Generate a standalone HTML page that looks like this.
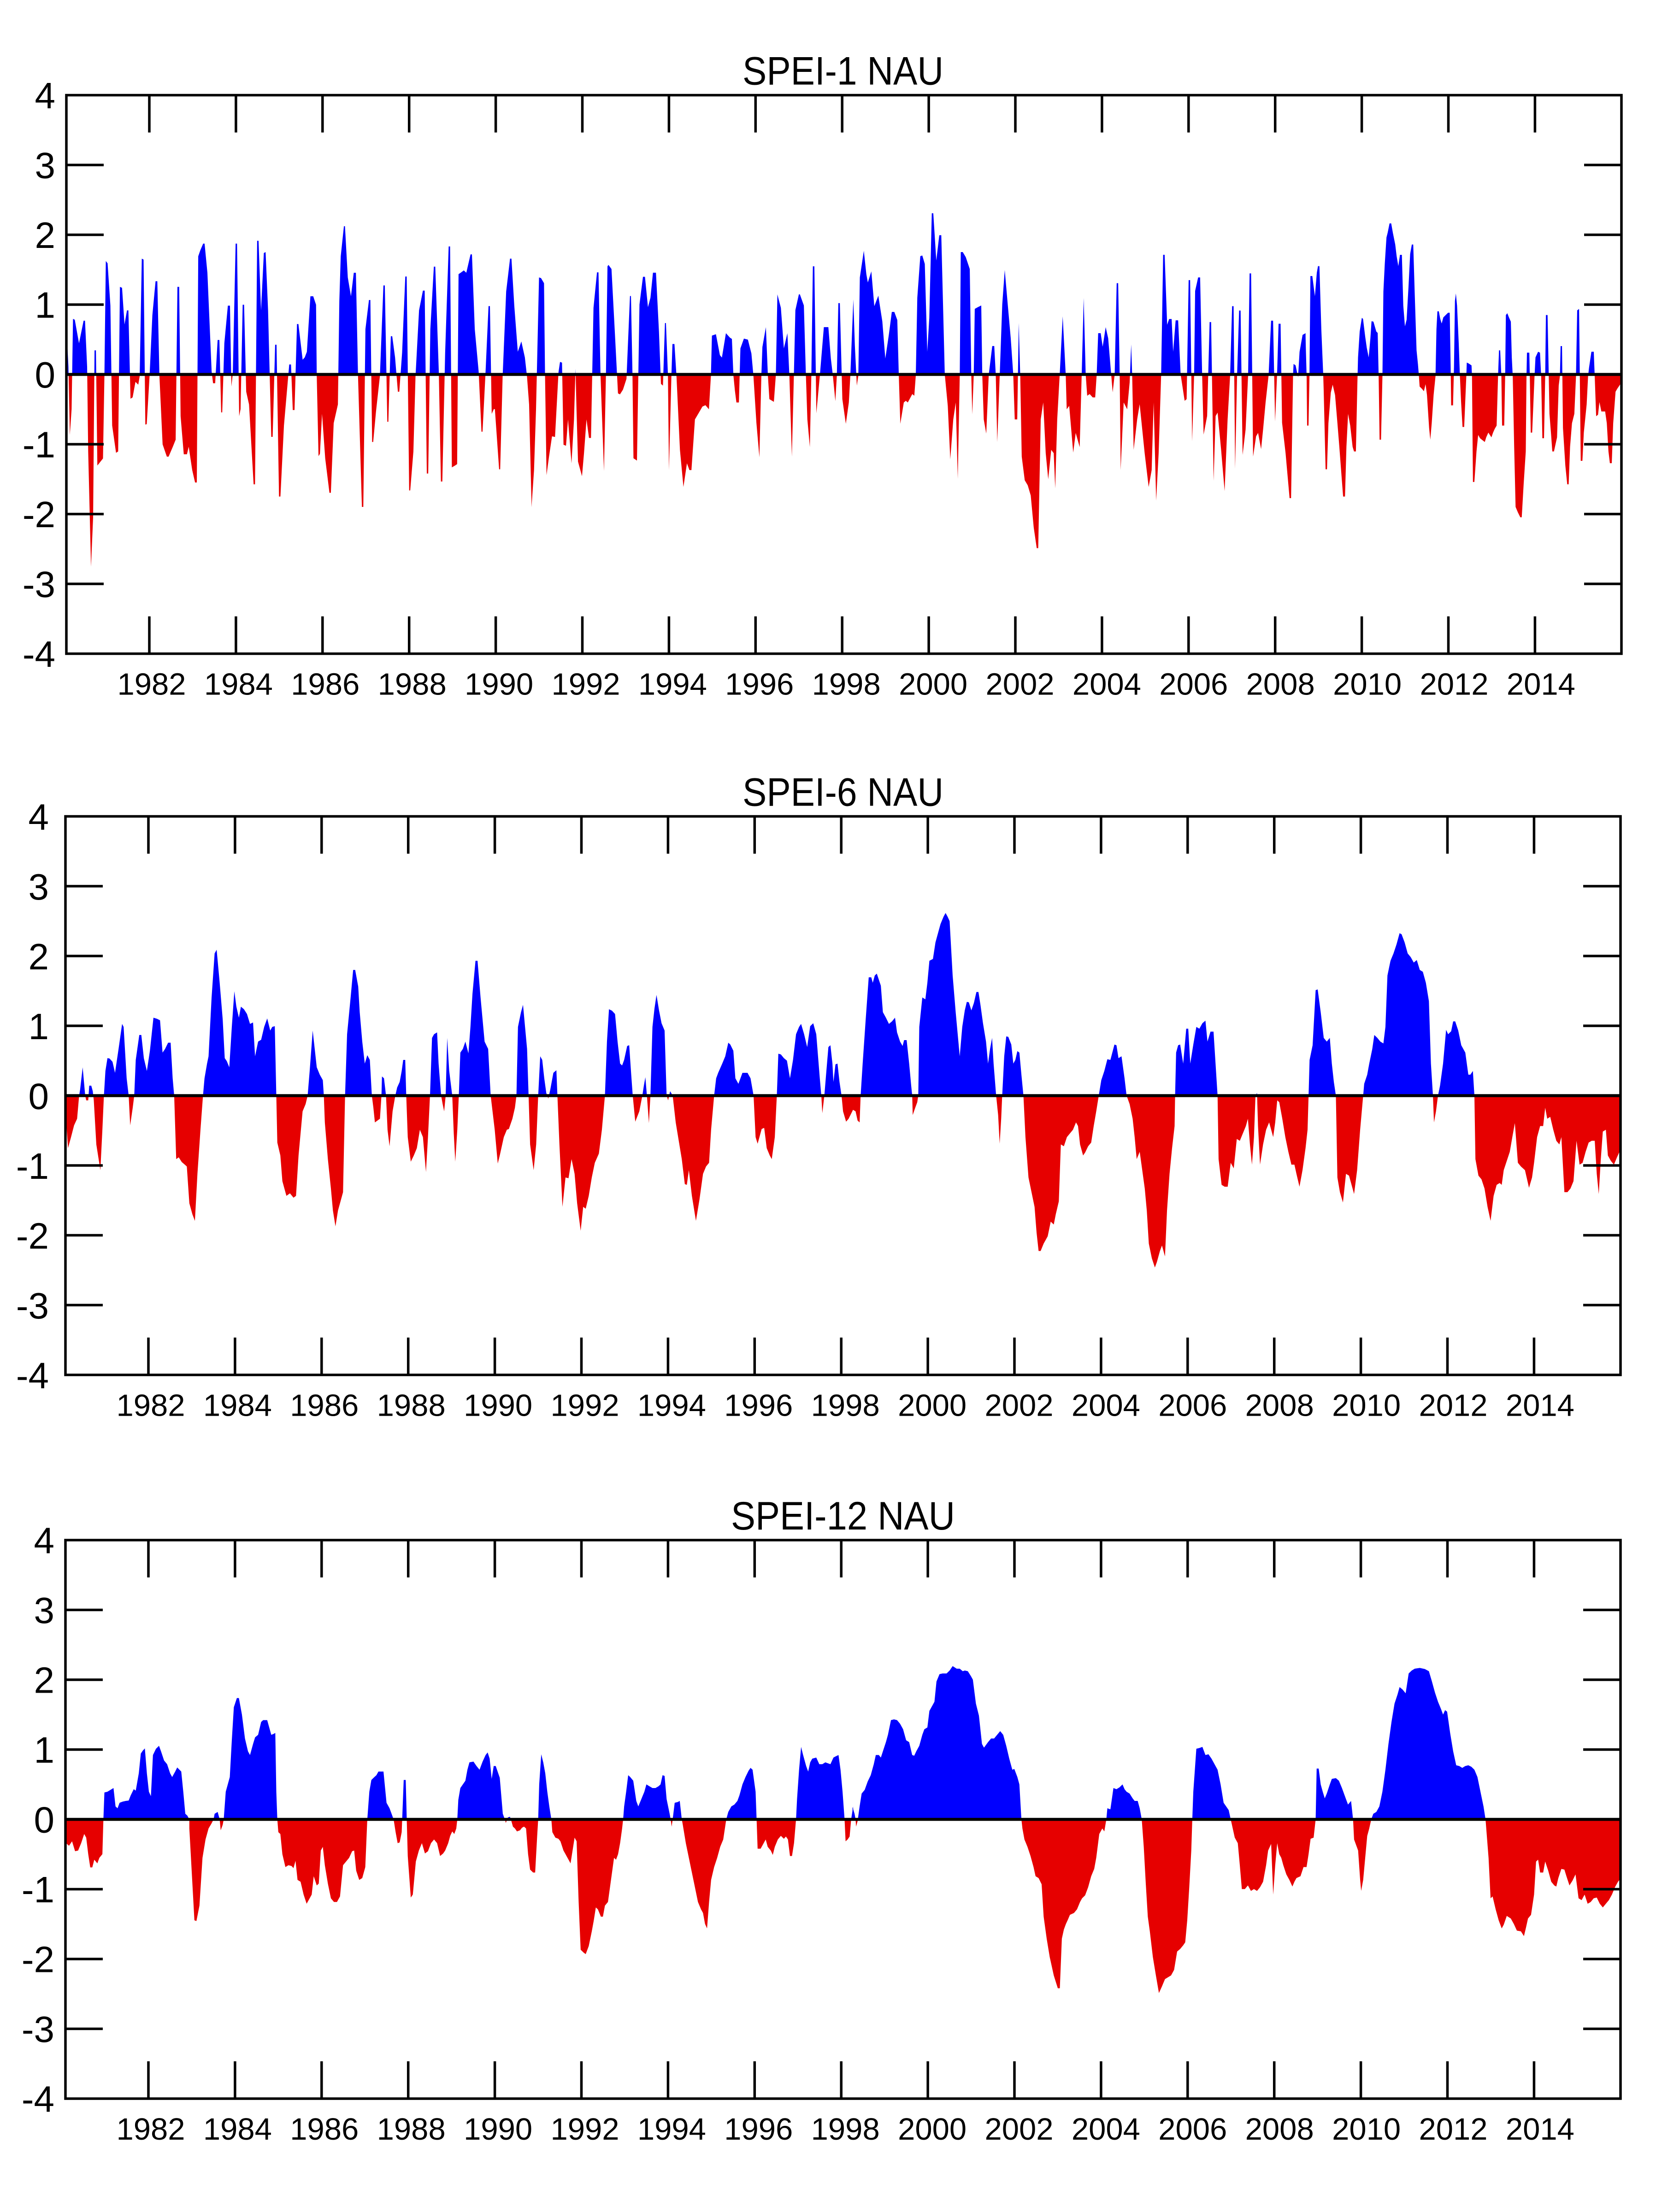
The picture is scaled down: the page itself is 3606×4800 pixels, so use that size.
<!DOCTYPE html>
<html>
<head>
<meta charset="utf-8">
<style>
html,body{margin:0;padding:0;background:#fff;}
svg{display:block;}
text{font-family:"Liberation Sans",Arial,sans-serif;fill:#000;}
</style>
</head>
<body>
<svg xmlns="http://www.w3.org/2000/svg" xmlns:xlink="http://www.w3.org/1999/xlink" width="3606" height="4800" viewBox="0 0 3606 4800">
<rect x="0" y="0" width="3606" height="4800" fill="#fff"/>
<defs>
 <clipPath id="p1" clipPathUnits="userSpaceOnUse"><rect x="0" y="0" width="3606" height="812.5"/></clipPath>
 <clipPath id="n1" clipPathUnits="userSpaceOnUse"><rect x="0" y="812.5" width="3606" height="700"/></clipPath>
 <clipPath id="p2" clipPathUnits="userSpaceOnUse"><rect x="0" y="1600" width="3606" height="777.4"/></clipPath>
 <clipPath id="n2" clipPathUnits="userSpaceOnUse"><rect x="0" y="2377.4" width="3606" height="700"/></clipPath>
 <clipPath id="p3" clipPathUnits="userSpaceOnUse"><rect x="0" y="3200" width="3606" height="748"/></clipPath>
 <clipPath id="n3" clipPathUnits="userSpaceOnUse"><rect x="0" y="3948" width="3606" height="700"/></clipPath>

 <g id="s1">
  <polygon transform="matrix(0.76531 0 0 1.02041 0 0)" points="188,796 190,720 194,780 198,925 203,870 207,678 212,680 224,730 237,682 241,682 247,780 250,960 258,1205 264,1100 268,745 272,745 276,990 292,975 296,800 300,555 305,560 313,650 318,905 329,963 335,960 340,610 346,612 353,690 360,660 364,660 370,848 376,845 384,812 392,818 396,800 402,550 407,552 412,903 416,902 424,800 432,670 441,598 446,598 452,800 461,945 473,971 478,971 490,950 498,935 503,610 508,610 512,885 521,966 530,966 535,950 545,1000 553,1026 558,1026 562,545 568,532 576,518 580,518 588,580 600,790 604,815 610,815 617,723 622,723 627,877 630,877 636,730 646,650 652,650 656,822 660,795 668,518 672,518 678,885 682,870 688,648 692,648 698,833 706,860 719,1030 723,1030 729,512 733,512 740,660 748,538 753,536 760,660 769,929 773,929 780,733 784,733 791,1056 795,1056 805,905 820,775 825,775 830,872 835,872 842,689 846,689 858,765 864,760 870,748 880,630 888,630 896,648 898,800 903,970 907,965 913,880 922,975 934,1048 938,1048 946,900 958,860 962,640 966,545 975,481 978,481 986,590 995,630 1003,580 1009,580 1015,800 1026,1078 1030,1078 1036,700 1046,638 1050,638 1055,940 1058,940 1066,875 1077,800 1087,607 1091,607 1098,897 1101,897 1108,715 1112,715 1120,760 1128,833 1132,833 1140,750 1149,588 1153,588 1160,1043 1163,1043 1172,960 1178,800 1188,660 1199,618 1204,618 1210,1007 1214,1007 1220,700 1230,567 1234,567 1244,790 1250,1024 1254,1024 1262,750 1272,524 1276,524 1281,994 1290,990 1296,987 1300,583 1306,580 1315,575 1322,580 1334,541 1338,541 1346,700 1357,790 1365,918 1368,918 1376,800 1385,651 1389,651 1394,880 1400,870 1403,870 1415,998 1418,998 1425,800 1435,620 1446,550 1450,550 1458,650 1468,748 1478,726 1488,760 1494,800 1500,860 1507,1078 1508,796"/>
  <polygon transform="matrix(1.08418 0 0 0.73342 1150 250)" points="3,767 3,1160 8,1050 12,870 18,480 22,482 28,497 30,767 33,1065 38,1010 44,950 50,952 57,760 60,730 64,732 67,975 72,978 76,900 83,1030 88,900 91,750 93,870 96,1025 104,1068 108,1000 113,900 118,955 122,955 127,570 134,465 137,465 141,767 148,1053 152,760 155,447 157,443 163,455 170,650 176,823 180,826 186,812 193,780 200,535 202,535 205,767 207,1015 214,1022 219,560 226,478 230,478 236,568 241,540 246,466 252,466 258,640 262,795 266,800 270,615 272,615 276,770 278,1050 283,766 285,677 289,677 293,770 300,990 307,1100 314,1030 319,1050 323,1050 330,900 338,880 345,862 351,858 358,870 362,770 364,652 372,648 380,710 384,717 392,645 400,658 404,662 407,770 410,815 413,850 418,850 421,690 428,661 436,664 443,705 447,770 453,910 459,1012 463,767 465,686 472,627 476,770 479,840 488,848 492,767 495,530 502,570 508,690 515,645 519,770 524,1010 528,770 531,577 538,530 540,530 548,563 552,767 555,900 560,982 563,767 566,447 569,447 573,882 580,770 588,627 597,627 602,720 606,770 611,846 614,770 617,556 620,556 625,840 632,913 638,850 641,770 647,545 650,680 654,800 657,770 660,480 668,401 673,470 676,495 683,462 689,565 697,534 705,610 711,720 718,650 724,582 729,582 735,606 738,770 741,913 748,850 752,845 756,850 765,825 769,830 772,770 775,540 781,417 785,415 790,440 795,700 799,600 804,290 807,290 813,430 819,355 823,355 830,767 836,860 841,1018 847,900 852,850 856,1076 860,767 862,405 866,405 872,420 880,455 883,767 885,885 888,767 890,573 896,568 903,563 905,767 908,900 913,942 918,767 925,683 929,683 932,767 935,967 940,767 945,560 950,458 956,560 962,660 967,767 970,900 975,900 978,615 981,770 984,1010 990,1080 996,1095 1002,1125 1008,1220 1014,1281 1017,1281 1022,900 1027,850 1032,1000 1037,1077 1043,990 1048,1000 1051,1104 1055,900 1060,767 1066,595 1072,767 1074,870 1079,860 1087,998 1092,940 1100,982 1104,767 1108,541 1112,767 1115,830 1120,825 1126,835 1131,835 1134,767 1137,645 1142,645 1146,685 1152,627 1157,660 1163,767 1166,820 1170,767 1174,497 1177,497 1180,767 1182,1050 1188,850 1195,870 1200,790 1203,678 1205,767 1208,990 1215,900 1220,855 1230,1000 1238,1100 1244,1050 1248,850 1253,1140 1258,1000 1263,767 1267,413 1270,413 1275,620 1279,603 1284,603 1287,700 1292,607 1297,607 1302,767 1310,845 1314,840 1318,488 1321,488 1325,965 1329,767 1331,520 1337,480 1341,480 1345,767 1348,945 1355,890 1360,612 1363,612 1368,1082 1372,890 1376,880 1383,990 1390,1112 1396,900 1401,770 1405,565 1408,565 1411,1046 1415,767 1419,578 1422,578 1426,1005 1432,930 1437,770 1440,468 1443,468 1447,1010 1453,950 1457,940 1463,988 1467,930 1472,850 1478,770 1483,608 1487,608 1491,906 1495,767 1498,617 1502,617 1505,910 1512,1000 1520,1133 1523,1133 1527,767 1528,736 1532,740 1537,775 1540,700 1546,650 1552,645 1552,767"/>
  <polygon transform="matrix(0.51403 0 0 1.02041 2800 0)" points="58,796 58,710 63,710 68,800 70,905 76,905 80,800 84,587 92,587 103,630 111,580 116,566 122,566 130,700 138,796 140,830 148,998 154,998 160,900 170,835 178,818 188,840 198,900 206,950 215,1010 222,1056 230,1056 236,950 243,880 252,905 262,950 268,960 276,960 282,820 285,760 292,705 301,676 306,678 315,715 322,740 330,760 337,720 342,683 350,684 362,705 368,708 372,800 376,935 382,935 388,800 392,620 398,560 405,505 410,495 418,475 425,475 432,495 442,520 448,545 455,566 462,542 470,542 476,650 483,694 490,680 498,610 505,540 512,520 518,520 524,620 532,745 538,775 542,800 545,822 555,827 563,832 570,817 576,840 585,910 590,935 596,900 604,840 612,800 616,700 620,662 626,662 632,678 638,688 645,675 655,670 665,665 672,665 676,780 678,862 686,862 690,780 694,640 698,624 703,650 710,730 715,800 720,855 726,908 733,908 742,800 744,771 752,773 764,777 766,800 770,1025 776,1025 785,960 792,925 800,932 810,936 820,940 826,930 835,920 848,930 855,920 862,912 870,905 876,800 880,745 885,745 890,800 893,905 902,905 906,800 909,670 915,666 922,675 930,684 934,760 938,800 944,950 950,1078 960,1090 970,1100 976,1100 984,1030 993,960 996,800 998,750 1008,750 1010,800 1014,920 1020,920 1030,800 1034,760 1045,748 1053,750 1058,800 1063,932 1070,932 1075,800 1078,670 1085,670 1090,800 1093,880 1100,925 1105,960 1112,960 1125,930 1132,820 1137,800 1140,736 1146,736 1150,910 1160,990 1168,1030 1174,1030 1180,950 1188,900 1198,880 1205,800 1210,660 1218,657 1225,980 1232,980 1238,920 1250,860 1256,800 1260,782 1270,748 1280,748 1284,800 1290,885 1298,882 1304,855 1312,875 1328,875 1335,900 1342,960 1348,985 1356,985 1362,900 1372,833 1380,826 1395,815 1395,796"/>
 </g>

 <g id="s2">
  <polygon transform="matrix(1.09694 0 0 0.79719 130 1750)" points="12,787 12,850 16,930 22,900 28,868 34,850 38,787 40,770 45,710 50,787 52,800 56,800 58,760 62,760 65,775 67,800 72,920 80,990 84,880 87,787 90,720 94,685 98,686 104,695 109,725 116,660 123,592 126,600 132,740 136,787 139,868 144,820 147,787 150,690 157,622 161,622 166,685 172,720 178,665 185,575 192,578 198,582 203,670 208,660 214,643 219,643 223,740 226,787 230,960 235,955 241,968 247,975 251,980 256,1080 262,1110 267,1128 272,1000 278,880 283,787 286,740 291,700 294,680 300,520 306,400 310,390 316,480 322,580 326,685 330,693 335,710 340,600 345,503 349,545 354,575 358,545 364,552 370,565 376,592 382,588 386,680 392,640 398,635 404,600 410,577 416,610 420,600 425,598 428,787 430,915 436,950 440,1020 448,1060 455,1053 462,1065 467,1060 472,950 480,830 486,810 490,787 494,720 500,610 508,710 514,730 520,745 522,787 524,860 530,960 536,1040 540,1100 545,1143 550,1100 554,1080 560,1050 564,787 568,620 575,520 580,445 584,445 590,490 593,560 598,640 603,700 608,677 613,690 617,787 620,820 623,860 628,855 633,850 636,787 637,735 641,740 645,787 648,880 652,925 658,830 663,790 667,765 672,750 676,720 679,690 683,690 685,787 688,900 694,967 700,950 706,930 712,880 718,900 724,995 728,900 732,787 736,630 740,620 746,615 749,700 754,787 757,810 760,830 763,787 766,630 770,720 776,787 779,890 782,967 786,880 789,787 792,670 797,660 802,640 808,672 812,600 816,510 822,420 826,420 832,520 840,640 847,660 852,787 860,880 866,972 870,950 878,900 884,880 888,878 895,850 900,820 903,787 906,600 912,560 916,540 920,600 924,660 927,787 930,920 937,990 942,920 946,787 950,680 954,690 958,740 962,780 966,795 970,770 976,725 982,718 984,787 988,920 994,1090 1000,1010 1006,1012 1012,960 1018,1000 1023,1080 1030,1155 1035,1090 1040,1095 1046,1060 1052,1010 1058,970 1066,945 1072,880 1078,787 1082,640 1086,552 1092,556 1098,565 1103,640 1108,700 1112,705 1116,690 1122,652 1126,650 1130,730 1133,787 1138,858 1146,830 1152,787 1155,760 1158,737 1161,787 1165,862 1168,787 1172,600 1176,550 1180,513 1185,555 1190,590 1196,610 1200,787 1203,800 1207,775 1212,787 1218,860 1224,910 1230,960 1236,1028 1240,1030 1244,990 1250,1060 1258,1128 1265,1070 1272,1000 1278,980 1284,970 1288,880 1294,787 1298,740 1302,725 1310,700 1316,680 1322,643 1326,648 1332,665 1336,740 1342,755 1350,725 1360,725 1366,740 1372,787 1376,900 1380,918 1388,878 1393,875 1398,930 1404,950 1408,960 1414,900 1418,787 1421,673 1426,675 1432,685 1438,692 1444,740 1450,690 1456,620 1462,600 1466,592 1472,620 1478,655 1484,598 1490,590 1496,620 1503,740 1506,787 1508,835 1512,787 1516,720 1520,655 1524,650 1528,700 1530,750 1534,702 1538,700 1542,750 1546,787 1549,830 1555,858 1560,850 1569,825 1569,787"/>
  <polygon transform="matrix(1.09694 0 0 0.79719 1830 1750)" points="18,787 18,825 24,830 28,855 32,860 34,787 38,700 44,580 50,465 55,465 58,480 62,460 66,455 74,488 78,560 84,575 90,592 96,585 102,575 106,615 112,640 117,652 120,636 125,636 130,700 134,760 136,787 137,840 142,820 146,805 148,787 150,600 156,520 162,525 166,480 170,420 177,415 182,370 188,340 192,320 198,300 202,290 206,300 210,312 216,460 222,560 226,620 230,680 235,600 240,555 244,532 248,533 253,555 258,535 263,505 267,505 271,540 276,590 282,640 286,700 290,660 294,630 297,700 302,787 306,840 309,918 312,850 314,787 318,680 322,626 326,627 332,648 336,700 340,690 344,666 348,670 352,730 356,787 360,900 366,1010 372,1050 378,1090 382,1160 386,1210 390,1210 396,1190 404,1170 410,1130 416,1138 420,1110 426,1075 430,920 436,925 442,900 448,890 454,880 460,860 464,870 468,920 474,950 478,942 484,925 490,915 495,870 500,830 505,787 510,745 516,720 522,688 528,690 536,648 540,650 544,685 550,680 556,740 560,787 566,810 572,850 576,900 580,960 586,940 592,1000 596,1040 600,1100 604,1190 610,1230 616,1255 620,1240 626,1210 630,1195 636,1225 640,1100 645,1000 650,930 655,870 656,787 658,670 662,650 666,648 672,700 678,605 682,605 686,700 692,648 698,600 704,605 710,590 716,583 720,640 726,613 732,613 736,700 740,787 742,960 748,1030 754,1035 760,1035 766,970 772,985 778,905 784,910 790,890 796,870 800,850 804,920 808,975 812,900 815,787 818,780 820,870 824,975 830,920 836,880 842,860 846,880 850,900 854,860 858,800 862,805 868,850 874,900 880,940 886,975 892,975 896,1000 902,1035 908,990 914,930 918,880 920,787 922,690 928,650 934,500 938,498 944,560 950,630 956,640 962,630 966,700 970,750 974,787 977,1010 982,1050 988,1078 994,1000 1000,1005 1005,1030 1010,1055 1016,990 1022,880 1028,787 1030,755 1036,730 1040,700 1046,660 1050,622 1056,630 1062,640 1068,645 1072,600 1076,460 1082,420 1088,400 1094,375 1100,345 1104,348 1110,370 1116,400 1122,410 1128,425 1134,418 1140,445 1146,450 1152,480 1158,530 1162,700 1166,787 1168,860 1172,830 1176,787 1180,760 1186,700 1192,608 1196,620 1202,612 1206,585 1210,585 1216,610 1222,650 1230,670 1236,730 1240,730 1245,720 1248,787 1250,960 1256,1005 1262,1015 1268,1040 1274,1090 1280,1128 1286,1060 1292,1030 1298,1025 1302,1030 1306,990 1312,965 1318,940 1323,900 1328,862 1334,970 1340,980 1348,990 1356,1038 1362,1010 1366,970 1372,900 1378,870 1384,870 1388,820 1392,850 1398,845 1404,880 1410,910 1416,920 1420,900 1426,1050 1432,1050 1438,1040 1444,1020 1450,910 1456,975 1462,970 1468,940 1474,915 1480,910 1486,910 1490,1000 1494,1055 1498,960 1502,885 1508,880 1512,950 1518,965 1524,975 1530,955 1535,940 1535,787"/>
 </g>

 <g id="s3">
  <polygon transform="matrix(1.09694 0 0 0.79719 130 3330)" points="12,775 12,840 18,847 24,835 30,862 36,860 42,840 48,815 52,825 56,870 60,906 64,906 68,885 74,895 78,880 84,870 86,775 88,702 94,700 100,695 106,690 110,740 114,745 118,730 124,727 130,725 136,724 140,710 146,693 150,697 156,650 160,596 164,588 168,582 172,650 176,700 180,712 184,600 190,583 196,575 200,590 206,615 212,625 218,650 222,660 228,645 232,634 240,645 244,700 248,760 252,765 256,775 256,800 260,900 266,1050 270,1052 276,1010 282,880 288,830 294,800 300,786 304,775 306,760 312,755 316,775 318,805 322,790 324,775 328,700 332,680 336,660 340,560 344,470 350,445 354,445 360,490 366,555 372,590 376,600 382,570 386,552 392,545 398,510 402,505 410,505 414,525 418,545 422,543 426,540 428,700 430,775 432,810 436,815 440,870 446,905 452,900 458,902 462,908 466,888 470,940 476,945 482,980 488,1005 494,990 498,980 502,930 508,955 512,950 516,860 520,850 524,900 530,950 536,990 542,1000 548,1000 554,985 560,900 566,890 572,880 578,862 582,860 586,915 592,940 598,935 604,905 608,775 612,700 616,668 622,660 626,655 630,645 640,645 646,730 652,745 656,760 660,775 664,810 668,840 672,838 676,810 680,668 684,668 686,775 688,875 694,988 698,980 704,890 710,860 716,840 722,868 728,862 734,840 740,830 746,840 752,875 758,868 762,860 768,840 772,820 776,808 780,815 784,800 786,775 788,722 792,690 798,678 802,670 806,640 810,620 818,618 824,630 830,640 836,618 842,600 846,593 850,610 854,665 858,630 862,630 870,662 876,760 880,775 882,785 886,770 890,768 892,775 896,795 900,800 904,808 910,805 914,798 918,795 922,800 926,870 930,912 936,920 940,920 944,820 946,775 948,680 952,598 956,620 960,650 964,700 968,740 972,775 974,810 980,825 986,828 990,835 996,860 1000,870 1006,885 1010,895 1014,860 1018,825 1022,835 1026,1000 1030,1130 1036,1138 1040,1142 1046,1120 1052,1080 1056,1050 1060,1015 1064,1020 1070,1040 1074,1040 1078,1010 1084,1000 1090,940 1096,880 1100,885 1104,870 1108,840 1112,800 1114,775 1116,740 1120,700 1124,655 1128,660 1134,670 1140,725 1144,740 1150,720 1156,700 1160,680 1166,685 1172,690 1178,690 1184,685 1188,680 1192,655 1196,657 1200,720 1206,760 1208,775 1210,795 1212,775 1216,730 1222,728 1226,725 1230,775 1232,790 1238,840 1244,880 1250,920 1256,960 1262,1000 1268,1020 1272,1030 1276,1060 1280,1072 1284,1000 1288,940 1294,905 1300,880 1306,850 1312,830 1318,775 1322,755 1328,740 1334,735 1340,725 1344,710 1350,680 1356,660 1362,643 1366,635 1370,640 1376,700 1378,775 1380,855 1386,855 1392,840 1396,830 1400,850 1406,860 1410,872 1414,850 1420,830 1426,820 1432,828 1436,822 1440,830 1444,875 1448,875 1452,840 1456,775 1458,720 1462,640 1466,578 1470,600 1476,630 1480,645 1484,620 1488,610 1496,607 1502,625 1508,625 1514,620 1518,622 1524,625 1530,607 1534,604 1540,600 1544,640 1548,700 1552,775 1554,835 1558,830 1562,822 1565,775 1569,740 1569,775"/>
  <polygon transform="matrix(1.09694 0 0 0.79719 1830 3330)" points="18,775 18,742 22,760 24,775 25,795 28,780 32,740 36,705 42,695 48,672 54,655 60,625 64,600 70,600 74,607 78,590 84,565 88,545 94,505 100,503 106,505 112,515 118,530 124,560 130,565 136,600 140,602 144,590 150,575 156,545 160,530 166,525 170,480 176,465 180,455 184,400 190,380 196,378 204,378 210,370 216,358 224,365 230,365 236,372 240,370 246,372 252,385 256,395 262,460 268,493 274,570 278,580 286,565 292,555 298,555 304,545 310,535 316,545 322,575 328,610 334,640 338,638 344,660 348,680 352,775 354,800 358,830 364,850 370,875 376,905 380,930 386,935 392,952 396,1040 402,1100 408,1150 416,1200 424,1235 428,1235 432,1100 436,1075 440,1060 444,1048 448,1035 456,1030 462,1020 468,1000 472,990 478,982 484,960 490,930 496,910 500,880 506,815 512,800 516,808 520,775 522,745 528,748 534,690 540,693 546,688 552,680 556,693 560,700 566,705 572,718 576,725 582,725 586,745 590,775 594,850 598,950 602,1040 606,1080 612,1150 618,1200 624,1248 630,1230 636,1210 642,1205 648,1200 654,1185 660,1135 666,1128 672,1118 676,1110 680,1050 684,960 688,860 690,775 692,700 698,583 704,581 710,578 716,600 722,598 728,610 734,625 740,640 746,680 752,730 758,742 762,750 766,775 770,800 774,825 780,840 784,900 788,965 794,965 800,955 806,970 812,965 818,970 824,960 830,945 836,900 840,860 846,842 850,980 854,900 858,840 862,870 866,880 870,900 876,925 882,940 888,958 892,945 896,935 904,930 910,905 916,905 920,870 924,828 930,825 934,775 936,637 940,637 944,680 948,700 952,718 956,705 962,680 966,665 974,663 980,670 986,690 990,705 994,720 998,735 1004,725 1008,775 1010,830 1014,845 1018,860 1022,940 1024,970 1028,940 1032,880 1036,820 1040,800 1044,775 1048,760 1054,755 1060,740 1066,700 1072,640 1078,570 1084,510 1090,460 1096,435 1100,415 1106,422 1112,432 1118,378 1124,370 1130,365 1140,363 1150,366 1158,372 1164,400 1170,430 1176,455 1182,475 1186,490 1190,478 1194,482 1200,540 1206,590 1212,628 1218,630 1224,635 1230,630 1236,628 1242,632 1248,640 1254,660 1260,700 1266,740 1270,775 1272,810 1276,880 1280,990 1284,985 1290,1020 1296,1050 1302,1072 1306,1062 1312,1038 1320,1045 1326,1060 1332,1078 1340,1080 1346,1093 1350,1070 1354,1045 1360,1035 1366,980 1370,890 1374,885 1378,920 1384,920 1388,890 1394,915 1400,945 1406,955 1410,958 1414,935 1420,910 1426,912 1430,930 1436,955 1442,942 1448,925 1454,990 1460,995 1466,980 1472,1005 1478,1000 1484,990 1490,988 1496,1005 1502,1015 1508,1005 1514,995 1520,980 1526,960 1532,945 1535,940 1535,775"/>
 </g>

 <g id="frame">
  <rect x="144" y="0" width="3374" height="1212" fill="none" stroke="#000" stroke-width="5.5"/>
  <path fill="none" stroke="#000" stroke-width="5.5" d="M324,0v81 M511.9,0v81 M699.8,0v81 M887.7,0v81 M1075.6,0v81 M1263.5,0v81 M1451.4,0v81 M1639.3,0v81 M1827.2,0v81 M2015.1,0v81 M2203,0v81 M2390.9,0v81 M2578.8,0v81 M2766.7,0v81 M2954.6,0v81 M3142.5,0v81 M3330.4,0v81 M324,1212v-81 M511.9,1212v-81 M699.8,1212v-81 M887.7,1212v-81 M1075.6,1212v-81 M1263.5,1212v-81 M1451.4,1212v-81 M1639.3,1212v-81 M1827.2,1212v-81 M2015.1,1212v-81 M2203,1212v-81 M2390.9,1212v-81 M2578.8,1212v-81 M2766.7,1212v-81 M2954.6,1212v-81 M3142.5,1212v-81 M3330.4,1212v-81 M144,151.5h81 M144,303h81 M144,454.5h81 M144,757.5h81 M144,909h81 M144,1060.5h81 M3518,151.5h-81 M3518,303h-81 M3518,454.5h-81 M3518,757.5h-81 M3518,909h-81 M3518,1060.5h-81"/>
  <line x1="144" y1="606" x2="3518" y2="606" stroke="#000" stroke-width="6.5"/>
  <g font-size="67" text-anchor="middle">
   <text x="329" y="1301">1982</text>
   <text x="517.4" y="1301">1984</text>
   <text x="705.8" y="1301">1986</text>
   <text x="894.2" y="1301">1988</text>
   <text x="1082.6" y="1301">1990</text>
   <text x="1271" y="1301">1992</text>
   <text x="1459.4" y="1301">1994</text>
   <text x="1647.8" y="1301">1996</text>
   <text x="1836.2" y="1301">1998</text>
   <text x="2024.6" y="1301">2000</text>
   <text x="2213" y="1301">2002</text>
   <text x="2401.4" y="1301">2004</text>
   <text x="2589.8" y="1301">2006</text>
   <text x="2778.2" y="1301">2008</text>
   <text x="2966.6" y="1301">2010</text>
   <text x="3155" y="1301">2012</text>
   <text x="3343.4" y="1301">2014</text>
  </g>
 </g>
</defs>

<!-- Chart 1 -->
<use xlink:href="#s1" fill="#0000ff" clip-path="url(#p1)"/>
<use xlink:href="#s1" fill="#e60000" clip-path="url(#n1)"/>
<use xlink:href="#frame" transform="translate(0,206.5)"/>
<text x="1829" y="183.3" font-size="86" text-anchor="middle" textLength="436" lengthAdjust="spacingAndGlyphs">SPEI-1 NAU</text>
<g font-size="80" text-anchor="end">
 <text x="120" y="235">4</text>
 <text x="120" y="386.5">3</text>
 <text x="120" y="538">2</text>
 <text x="120" y="689.5">1</text>
 <text x="120" y="841">0</text>
 <text x="120" y="992.5">-1</text>
 <text x="120" y="1144">-2</text>
 <text x="120" y="1295.5">-3</text>
 <text x="120" y="1447">-4</text>
</g>

<!-- Chart 2 -->
<use xlink:href="#s2" fill="#0000ff" clip-path="url(#p2)"/>
<use xlink:href="#s2" fill="#e60000" clip-path="url(#n2)"/>
<use xlink:href="#frame" transform="translate(-2,1771.5)"/>
<text x="1829" y="1748.3" font-size="86" text-anchor="middle" textLength="436" lengthAdjust="spacingAndGlyphs">SPEI-6 NAU</text>
<g font-size="80" text-anchor="end">
 <text x="106" y="1800.5">4</text>
 <text x="106" y="1952">3</text>
 <text x="106" y="2103.5">2</text>
 <text x="106" y="2255">1</text>
 <text x="106" y="2406.5">0</text>
 <text x="106" y="2558">-1</text>
 <text x="106" y="2709.5">-2</text>
 <text x="106" y="2861">-3</text>
 <text x="106" y="3012.5">-4</text>
</g>

<!-- Chart 3 -->
<use xlink:href="#s3" fill="#0000ff" clip-path="url(#p3)"/>
<use xlink:href="#s3" fill="#e60000" clip-path="url(#n3)"/>
<use xlink:href="#frame" transform="translate(-2,3342)"/>
<text x="1829" y="3318.8" font-size="86" text-anchor="middle" textLength="486" lengthAdjust="spacingAndGlyphs">SPEI-12 NAU</text>
<g font-size="80" text-anchor="end">
 <text x="118" y="3370.5">4</text>
 <text x="118" y="3522">3</text>
 <text x="118" y="3673.5">2</text>
 <text x="118" y="3825">1</text>
 <text x="118" y="3976.5">0</text>
 <text x="118" y="4128">-1</text>
 <text x="118" y="4279.5">-2</text>
 <text x="118" y="4431">-3</text>
 <text x="118" y="4582.5">-4</text>
</g>
</svg>
</body>
</html>
